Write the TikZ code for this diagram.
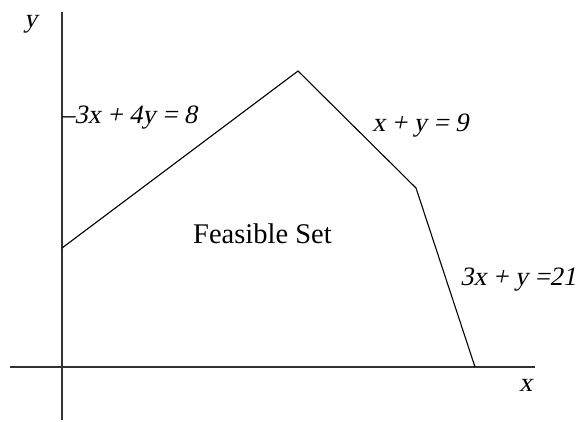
\documentclass[tikz,border=0pt]{standalone}
\usepackage{fontspec}
\setmainfont{Liberation Serif}
\newfontfamily\slfont{Liberation Serif}[FakeSlant=0.2]
\begin{document}
\begin{tikzpicture}[x=1pt,y=-1pt,
  lbl/.style={inner sep=0pt,anchor=base west,font=\slfont\fontsize{26.5}{30}\selectfont},
  edge/.style={line width=1.1pt,black},
  axis/.style={line width=1.1pt,black!80}]
\useasboundingbox (0,0) rectangle (580,421);
% axes
\coordinate (yb) at (62,420);
\coordinate (yt) at (62,12);
\coordinate (xl) at (10,367);
\coordinate (xr) at (535,367);
\draw[axis] (yb) -- (yt);
\draw[axis] (xl) -- (xr);
% polygon vertices
\coordinate (A) at (62,248);
\coordinate (B) at (298,71);
\coordinate (C) at (416,188);
\coordinate (D) at (475,367);
\draw[edge] (A) -- (B) -- (C) -- (D);
% labels
\node[lbl] (ylab) at (24,27) {y};
\node[lbl] (xlab) at (519,391) {x};
\node[lbl] (l1) at (61,123) {–3x + 4y = 8};
\node[lbl] (l2) at (372,131) {x + y = 9};
\node[lbl] (l3) at (460,285) {3x + y =21};
\node[inner sep=0pt,anchor=base west,font=\fontsize{28.5}{32}\selectfont] (fs) at (193,243) {Feasible Set};
\end{tikzpicture}
\end{document}
